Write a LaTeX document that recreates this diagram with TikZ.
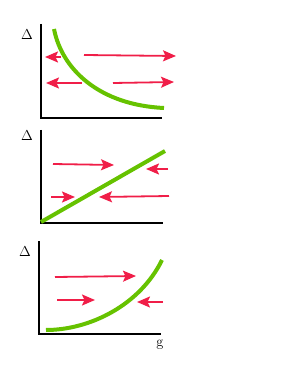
\documentclass[tikz,border=0pt]{standalone}
\usetikzlibrary{arrows.meta}
\definecolor{arrred}{RGB}{240,30,72}
\definecolor{curvegreen}{RGB}{102,194,0}
\tikzset{
  axisline/.style={line width=2pt, black},
  curveline/.style={line width=4pt, curvegreen},
  flowarrow/.style={line width=1.8pt, arrred, -{Stealth[length=13pt,width=11pt,inset=2.5pt]}},
  lbl/.style={inner sep=0pt, font=\fontsize{15}{17}\selectfont}
}
\begin{document}
\begin{tikzpicture}[x=1pt,y=-1pt]
\useasboundingbox (0,0) rectangle (295,382);
% Panel 1
\node[lbl] (d1) at (27,35) {$\Delta$};
\coordinate (o1) at (41,118);
\coordinate (t1) at (41,24);
\coordinate (r1) at (162,118);
\draw[axisline] (t1) -- (o1) -- (r1);
\coordinate (c1a) at (54,29);
\coordinate (c1b) at (164,108);
\draw[curveline] (c1a) .. controls (62,70) and (100,105) .. (c1b);
\coordinate (a1s) at (61,57); \coordinate (a1e) at (45,57);
\coordinate (a2s) at (84,55); \coordinate (a2e) at (176,56);
\coordinate (a3s) at (82,83); \coordinate (a3e) at (46,83);
\coordinate (a4s) at (113,83); \coordinate (a4e) at (174,82);
\draw[flowarrow] (a1s) -- (a1e);
\draw[flowarrow] (a2s) -- (a2e);
\draw[flowarrow] (a3s) -- (a3e);
\draw[flowarrow] (a4s) -- (a4e);
% Panel 2
\node[lbl] (d2) at (27,136) {$\Delta$};
\coordinate (o2) at (41,223);
\coordinate (t2) at (41,130);
\coordinate (r2) at (163,223);
\draw[axisline] (t2) -- (o2) -- (r2);
\coordinate (c2a) at (41,222);
\coordinate (c2b) at (165,151);
\draw[curveline] (c2a) -- (c2b);
\coordinate (b1s) at (53,164); \coordinate (b1e) at (114,165);
\coordinate (b2s) at (168,169); \coordinate (b2e) at (146,169);
\coordinate (b3s) at (51,197); \coordinate (b3e) at (75,197);
\coordinate (b4s) at (169,196); \coordinate (b4e) at (99,197);
\draw[flowarrow] (b1s) -- (b1e);
\draw[flowarrow] (b2s) -- (b2e);
\draw[flowarrow] (b3s) -- (b3e);
\draw[flowarrow] (b4s) -- (b4e);
% Panel 3
\node[lbl] (d3) at (25,252) {$\Delta$};
\node[lbl] (g3) at (160,345) {$\mathrm{g}$};
\coordinate (o3) at (39,334);
\coordinate (t3) at (39,241);
\coordinate (r3) at (161,334);
\draw[axisline] (t3) -- (o3) -- (r3);
\coordinate (c3a) at (46,330);
\coordinate (c3b) at (162,260);
\draw[curveline] (c3a) .. controls (90,330) and (140,305) .. (c3b);
\coordinate (e1s) at (55,277); \coordinate (e1e) at (136,276);
\coordinate (e2s) at (57,300); \coordinate (e2e) at (95,300);
\coordinate (e3s) at (163,302); \coordinate (e3e) at (137,302);
\draw[flowarrow] (e1s) -- (e1e);
\draw[flowarrow] (e2s) -- (e2e);
\draw[flowarrow] (e3s) -- (e3e);
\end{tikzpicture}
\end{document}
